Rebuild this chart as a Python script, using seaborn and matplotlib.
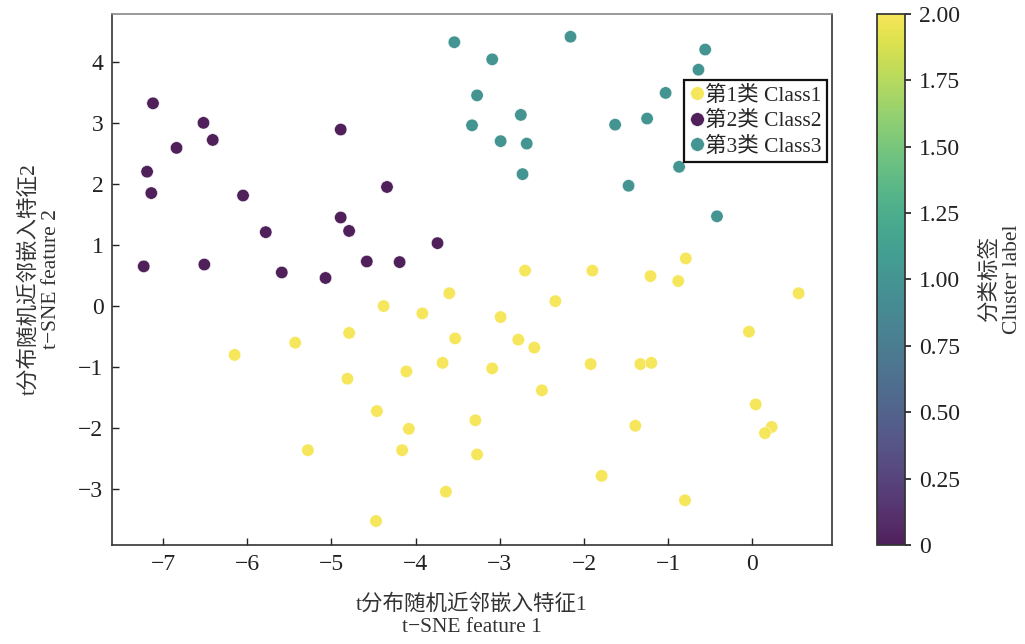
import numpy as np
import pandas as pd
import matplotlib
matplotlib.use("Agg")
import matplotlib.pyplot as plt
import seaborn as sns
from matplotlib.ticker import FuncFormatter
from matplotlib.colors import ListedColormap, Normalize

# t-SNE coordinates, one pair of lists per class
class1_x = [-4.38, -3.92, -4.79, -5.43, -3.53, -6.15, -3.68, -4.11, -4.81, -4.46,
            -4.08, -3.29, -5.28, -4.16, -3.27, -3.64, -4.47, -0.79, -2.70, -1.90,
            -1.21, -0.88, -3.60, 0.55, -2.34, -2.99, -2.78, -2.59, -0.04, -3.09,
            -1.92, -1.33, -1.20, -2.50, 0.04, -1.39, 0.23, 0.15, -1.79, -0.80]
class1_y = [0.00, -0.12, -0.44, -0.60, -0.53, -0.80, -0.93, -1.07, -1.19, -1.72,
            -2.01, -1.87, -2.36, -2.36, -2.43, -3.04, -3.52, 0.78, 0.58, 0.58,
            0.49, 0.41, 0.21, 0.21, 0.08, -0.18, -0.55, -0.68, -0.42, -1.02,
            -0.95, -0.95, -0.93, -1.38, -1.61, -1.96, -1.98, -2.08, -2.78, -3.18]

class2_x = [-7.12, -6.52, -6.41, -6.84, -7.19, -7.14, -4.89, -4.34, -6.05, -4.89,
            -4.79, -5.78, -3.74, -7.23, -6.51, -4.58, -4.19, -5.59, -5.07]
class2_y = [3.32, 3.00, 2.72, 2.59, 2.20, 1.85, 2.89, 1.95, 1.81, 1.45,
            1.23, 1.21, 1.03, 0.65, 0.68, 0.73, 0.72, 0.55, 0.46]

class3_x = [-3.54, -3.09, -2.16, -0.56, -0.64, -3.27, -1.03, -2.75, -1.25, -3.33,
            -1.63, -2.99, -2.68, -2.73, -0.87, -1.47, -0.42]
class3_y = [4.32, 4.04, 4.41, 4.20, 3.87, 3.45, 3.49, 3.13, 3.07, 2.96,
            2.97, 2.70, 2.66, 2.16, 2.28, 1.97, 1.47]

class_names = ["第1类 Class1", "第2类 Class2", "第3类 Class3"]
cluster_ids = [2, 0, 1]  # value on the colour scale for each class

df = pd.concat([
    pd.DataFrame({"x": class1_x, "y": class1_y, "cls": class_names[0]}),
    pd.DataFrame({"x": class2_x, "y": class2_y, "cls": class_names[1]}),
    pd.DataFrame({"x": class3_x, "y": class3_y, "cls": class_names[2]}),
], ignore_index=True)

sns.set_theme(style="ticks")
plt.rcParams["font.family"] = ["Liberation Serif", "Noto Sans CJK SC", "DejaVu Sans"]
plt.rcParams["axes.unicode_minus"] = True

# viridis, slightly muted like the printed figure
base = plt.get_cmap("viridis")(np.linspace(0, 1, 256))[:, :3]
gray = (base @ np.array([0.3, 0.59, 0.11]))[:, None]
cmap = ListedColormap(np.clip(0.8 * base + 0.2 * gray, 0, 1))
norm = Normalize(vmin=0, vmax=2)
palette = {name: cmap(norm(cid)) for name, cid in zip(class_names, cluster_ids)}
ALPHA = 0.9

fig = plt.figure(figsize=(10.25, 6.44), dpi=100)
ax = fig.add_axes([0.109, 0.153, 0.703, 0.826])
cax = fig.add_axes([0.856, 0.153, 0.027, 0.826])

sns.scatterplot(data=df, x="x", y="y", hue="cls", hue_order=class_names,
                palette=palette, s=80, alpha=ALPHA, edgecolor="white",
                linewidth=0.4, ax=ax)

ax.set_xlim(-7.61, 0.95)
ax.set_ylim(-3.92, 4.79)
ax.set_xticks(range(-7, 1))
ax.set_yticks(range(-3, 5))
ax.tick_params(direction="in", length=5, width=1, labelsize=17, colors="#222222", pad=6)
for sp in ax.spines.values():
    sp.set_color("#333333")
    sp.set_linewidth(1.2)
ax.spines["top"].set_color("#888888")

ax.set_xlabel("t分布随机近邻嵌入特征1\nt−SNE feature 1", fontsize=15.5,
              color="#333333", labelpad=14, linespacing=1.2)
ax.set_ylabel("t分布随机近邻嵌入特征2\nt−SNE feature 2", fontsize=15.5,
              color="#333333", labelpad=12, linespacing=1.2)

handles, labels = ax.get_legend_handles_labels()
leg = ax.legend(handles, labels, loc="upper right", bbox_to_anchor=(0.993, 0.875),
                fontsize=15.5, frameon=True, fancybox=False, borderpad=0.25,
                handletextpad=0.05, handlelength=0.7, labelspacing=0.25,
                borderaxespad=0, markerscale=1.1)
leg.get_frame().set_edgecolor("#111111")
leg.get_frame().set_linewidth(1.6)
leg.get_frame().set_facecolor("white")
leg.get_frame().set_alpha(1)

sm = matplotlib.cm.ScalarMappable(norm=norm, cmap=cmap)
cb = fig.colorbar(sm, cax=cax, alpha=ALPHA)
cb.set_ticks(np.arange(0, 2.01, 0.25))
cb.ax.yaxis.set_major_formatter(FuncFormatter(lambda v, p: "0" if v == 0 else f"{v:.2f}"))
cb.ax.tick_params(labelsize=17, length=4, colors="#222222", pad=6)
cb.outline.set_edgecolor("#333333")
cb.set_label("分类标签\nCluster label", fontsize=15.5, color="#333333",
             labelpad=14, linespacing=1.2)

fig.savefig("out.png", dpi=100)
plt.close(fig)
